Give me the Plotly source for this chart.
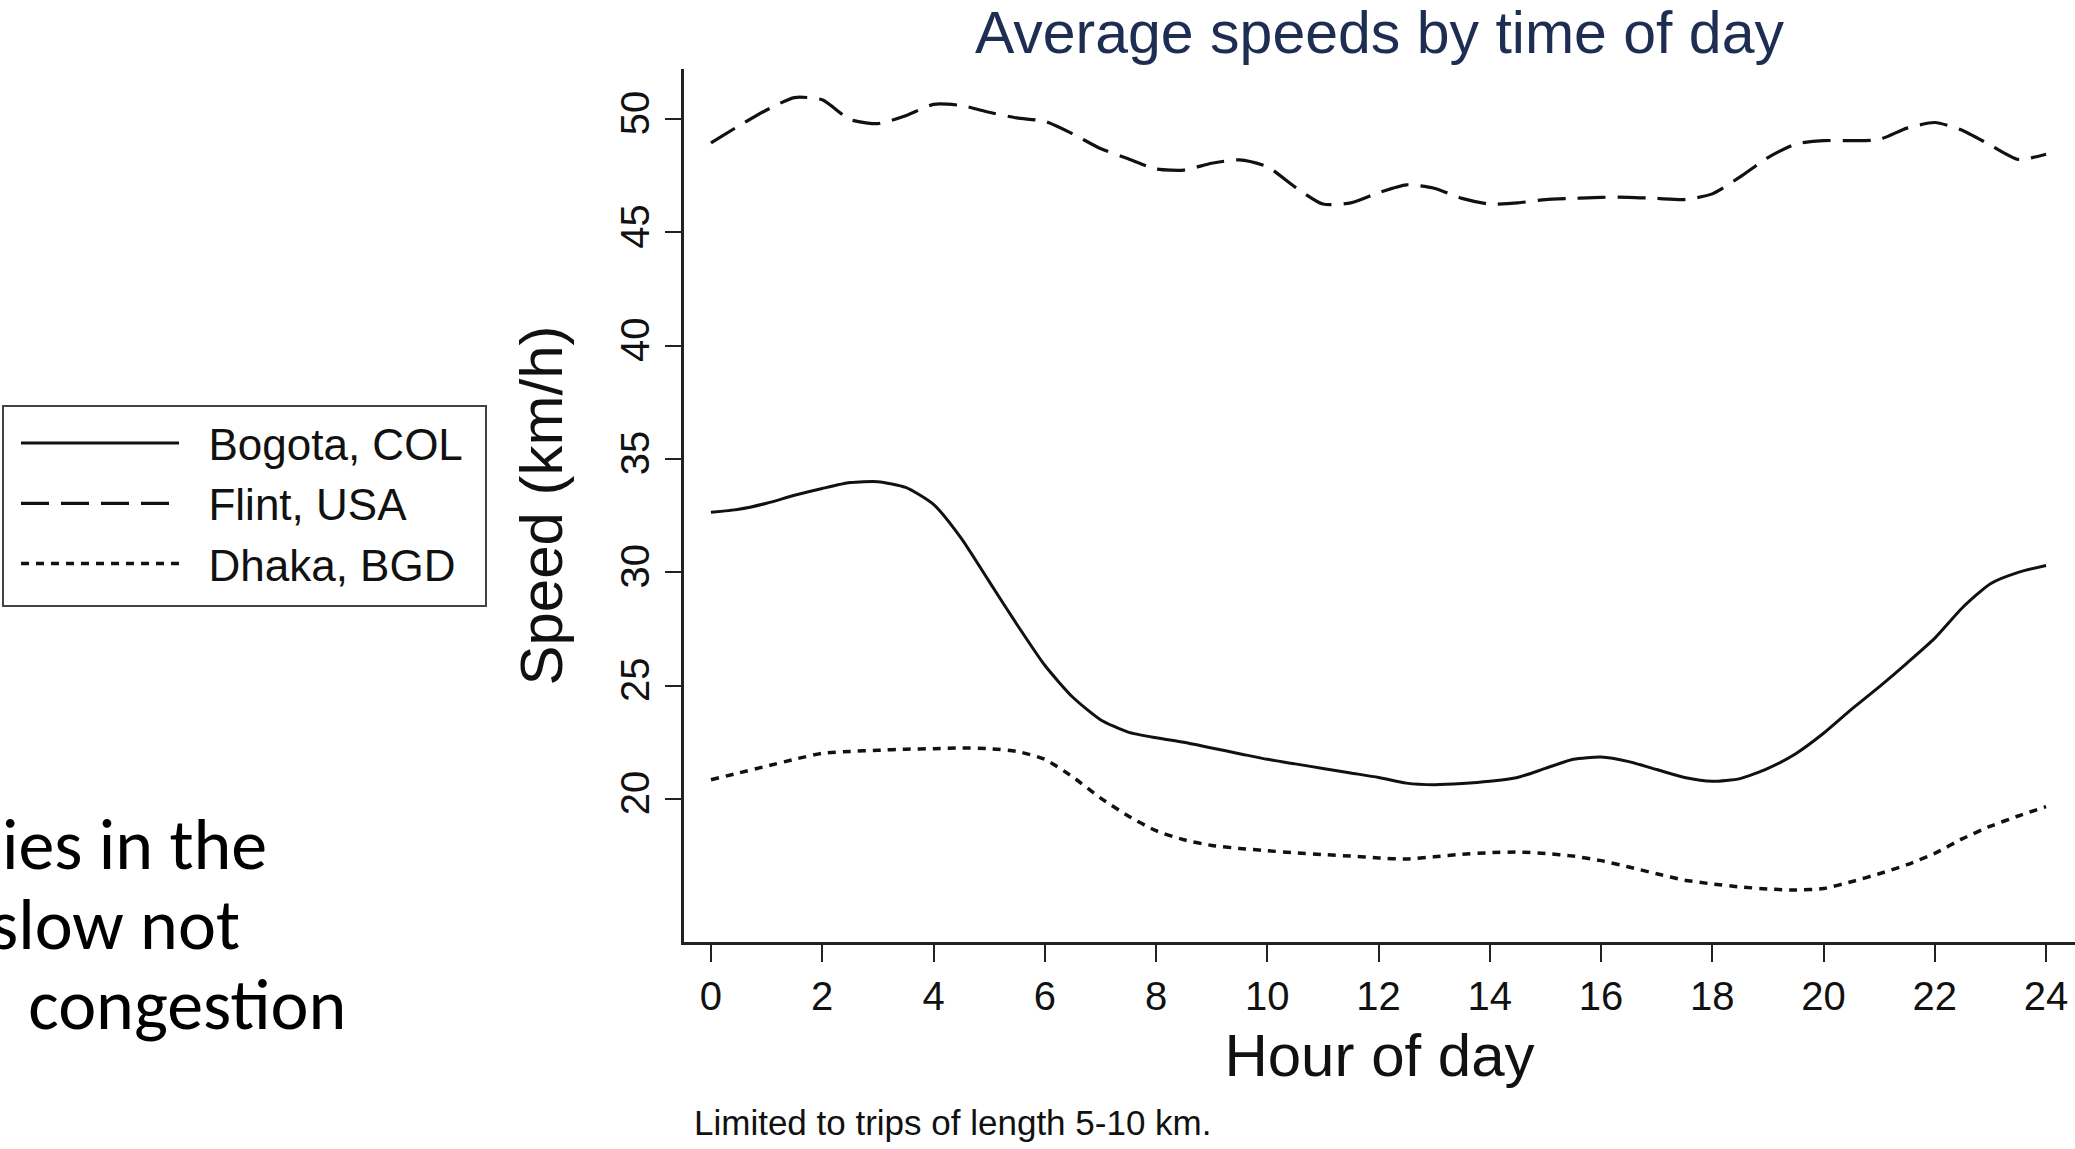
import plotly.graph_objects as go

# ---- data ----
hours = [0, 0.5, 1, 1.5, 2, 2.5, 3, 3.5, 4, 4.5, 5, 5.5, 6, 6.5, 7, 7.5, 8, 8.5,
         9, 9.5, 10, 10.5, 11, 11.5, 12, 12.5, 13, 13.5, 14, 14.5, 15, 15.5, 16,
         16.5, 17, 17.5, 18, 18.5, 19, 19.5, 20, 20.5, 21, 21.5, 22, 22.5, 23,
         23.5, 24]

bogota = [32.65, 32.78, 33.05, 33.4, 33.7, 33.96, 34.0, 33.75, 33.0, 31.5,
          29.6, 27.7, 25.9, 24.5, 23.5, 22.95, 22.7, 22.5, 22.25, 22.0, 21.75,
          21.55, 21.35, 21.15, 20.95, 20.7, 20.63, 20.68, 20.78, 20.95, 21.35,
          21.75, 21.85, 21.65, 21.3, 20.95, 20.78, 20.9, 21.35, 22.0, 22.9,
          23.95, 24.95, 26.0, 27.1, 28.45, 29.5, 30.0, 30.3]

flint = [48.95, 49.7, 50.4, 50.95, 50.85, 49.98, 49.8, 50.15, 50.65, 50.6,
         50.3, 50.05, 49.9, 49.35, 48.7, 48.25, 47.8, 47.75, 48.05, 48.2, 47.9,
         47.0, 46.25, 46.3, 46.75, 47.1, 46.95, 46.5, 46.25, 46.3, 46.45, 46.5,
         46.55, 46.55, 46.5, 46.45, 46.7, 47.45, 48.3, 48.9, 49.05, 49.05, 49.1,
         49.6, 49.85, 49.5, 48.85, 48.22, 48.45]

dhaka = [20.85, 21.15, 21.45, 21.75, 22.02, 22.1, 22.15, 22.2, 22.22, 22.25,
         22.22, 22.1, 21.75, 20.98, 20.05, 19.25, 18.6, 18.2, 17.95, 17.82,
         17.72, 17.62, 17.55, 17.48, 17.4, 17.35, 17.45, 17.56, 17.63, 17.66,
         17.6, 17.48, 17.28, 17.0, 16.7, 16.42, 16.25, 16.12, 16.03, 15.98,
         16.05, 16.35, 16.7, 17.1, 17.6, 18.25, 18.8, 19.25, 19.66]

series_names = ["Bogota, COL", "Flint, USA", "Dhaka, BGD"]
x_ticks = [0, 2, 4, 6, 8, 10, 12, 14, 16, 18, 20, 22, 24]
y_ticks = [20, 25, 30, 35, 40, 45, 50]

chart_title = "Average speeds by time of day"
x_title = "Hour of day"
y_title = "Speed (km/h)"
note_text = "Limited to trips of length 5-10 km."
slide_lines = ["ies in the", "slow not", " congestion"]

# ---- styling ----
W, H = 2075, 1149
ML, MR, MT, MB = 684, 0, 69, 207
PW, PH = W - ML - MR, H - MT - MB
FONT = "Liberation Sans, Arial, Helvetica, sans-serif"
INK = "#111111"


def px_to_paper_x(px):
    return (px - ML) / PW


def px_to_paper_y(py):
    return (H - MB - py) / PH


fig = go.Figure()
styles = [
    dict(color=INK, width=3, dash="solid"),
    dict(color=INK, width=3.2, dash="28px,12px"),
    dict(color=INK, width=3.5, dash="8px,7px"),
]
for name, vals, st in zip(series_names, [bogota, flint, dhaka], styles):
    fig.add_trace(go.Scatter(
        x=hours, y=vals, mode="lines", name="&nbsp;&nbsp;" + name,
        line=dict(color=st["color"], width=st["width"], dash=st["dash"],
                  shape="spline", smoothing=0.6),
    ))

fig.update_layout(
    width=W, height=H,
    margin=dict(l=ML, r=MR, t=MT, b=MB, pad=0),
    paper_bgcolor="white", plot_bgcolor="white",
    font=dict(family=FONT, color=INK),
    title=dict(text=chart_title, x=0.5, xref="paper", xanchor="center",
               y=1 - 32 / H, yref="container", yanchor="middle",
               font=dict(size=59, color="#1e2d52", family=FONT)),
    legend=dict(
        xref="container", yref="container",
        x=16 / W, y=1 - 408 / H, xanchor="left", yanchor="top",
        bgcolor="rgba(0,0,0,0)", borderwidth=0,
        font=dict(size=44, color=INK, family=FONT),
        itemwidth=158, tracegroupgap=0,
    ),
    xaxis=dict(
        range=[-0.485, 24.52], tickmode="array", tickvals=x_ticks,
        ticks="outside", ticklen=17, tickwidth=2, tickcolor="#222222",
        showline=True, linewidth=3, linecolor="#222222",
        showgrid=False, zeroline=False,
        tickfont=dict(size=40, family=FONT, color=INK),
        title=dict(text=x_title, font=dict(size=60, family=FONT, color=INK),
                   standoff=17),
        automargin=False,
    ),
    yaxis=dict(
        range=[13.69, 52.21], tickmode="array", tickvals=y_ticks,
        ticks="outside", ticklen=16, tickwidth=2, tickcolor="#222222",
        showline=True, linewidth=2.5, linecolor="#222222",
        showgrid=False, zeroline=False, tickangle=-90,
        tickfont=dict(size=40, family=FONT, color=INK),
        title=dict(text=y_title, font=dict(size=60, family=FONT, color=INK),
                   standoff=32),
        automargin=False,
    ),
    shapes=[dict(
        type="rect", xref="paper", yref="paper",
        x0=px_to_paper_x(3), x1=px_to_paper_x(486),
        y0=px_to_paper_y(606), y1=px_to_paper_y(406),
        line=dict(color="#444444", width=2), fillcolor="rgba(0,0,0,0)",
        layer="below",
    )],
)

annotations = [
    dict(text=note_text, xref="paper", yref="paper",
         x=px_to_paper_x(692), y=px_to_paper_y(1122),
         xanchor="left", yanchor="middle", showarrow=False,
         font=dict(size=35, family=FONT, color=INK)),
]
slide_pos = [(0, 844), (-12, 924), (10, 1004)]
for txt, (px, py) in zip(slide_lines, slide_pos):
    annotations.append(dict(
        text=txt.replace(" ", "&nbsp;") if txt.startswith(" ") else txt,
        xref="paper", yref="paper",
        x=px_to_paper_x(px), y=px_to_paper_y(py),
        xanchor="left", yanchor="middle", showarrow=False,
        font=dict(size=72, family="Carlito, Calibri, Lato, sans-serif",
                  color="#000000"),
    ))
fig.update_layout(annotations=annotations)

fig.write_html("out.html")
